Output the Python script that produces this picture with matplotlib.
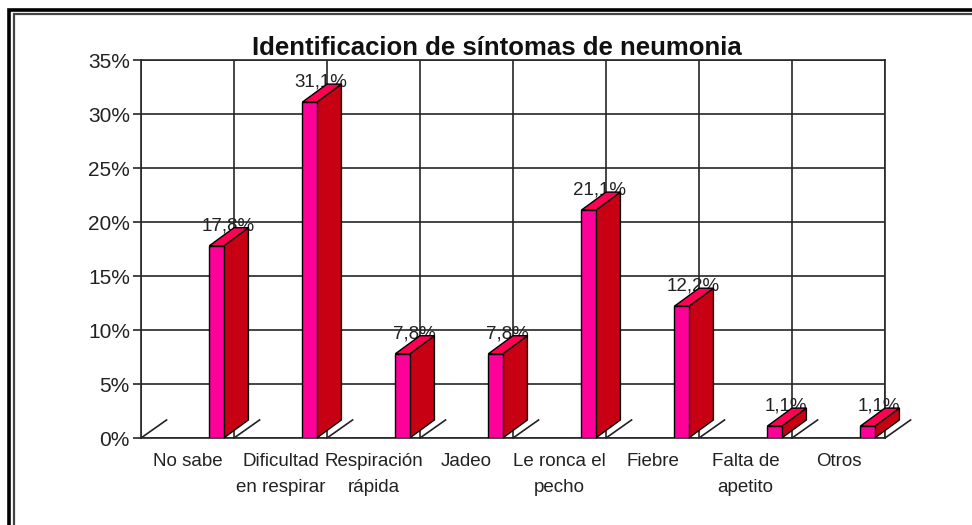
import matplotlib
matplotlib.use('Agg')
import matplotlib.pyplot as plt
from matplotlib.lines import Line2D
from matplotlib.patches import Polygon

# Data
categories = ['No sabe', 'Dificultad\nen respirar', 'Respiración\nrápida', 'Jadeo',
              'Le ronca el\npecho', 'Fiebre', 'Falta de\napetito', 'Otros']
values = [17.8, 31.1, 7.8, 7.8, 21.1, 12.2, 1.1, 1.1]
value_labels = ['17,8%', '31,1%', '7,8%', '7,8%', '21,1%', '12,2%', '1,1%', '1,1%']
y_ticks = [0, 5, 10, 15, 20, 25, 30, 35]

W, H = 972, 525
plt.rcParams['font.family'] = ['Liberation Sans', 'DejaVu Sans']

fig = plt.figure(figsize=(W / 100, H / 100), dpi=100)
ax = fig.add_axes([141 / W, 1 - 438 / H, (885 - 141) / W, (438 - 60) / H])
ax.set_xlim(0, 8)
ax.set_ylim(0, 35)

# 3D look of the bars, in axis units
bar_w = 0.155
bar_gap = 0.265
depth_x = 0.265
depth_y = 1.67
front_color = '#ff0099'
side_color = '#c80014'
top_color = '#ff0055'
grid_color = '#262626'

ax.set_xticks(range(9))
ax.set_yticks(y_ticks)
ax.set_yticklabels([f'{t}%' for t in y_ticks], fontsize=15, color='#222222')
ax.set_xticklabels([])
ax.grid(True, color=grid_color, linewidth=1.2, zorder=1)
ax.set_axisbelow(True)
ax.tick_params(axis='y', length=6, width=1.2, color=grid_color, pad=2)
ax.tick_params(axis='x', length=0)
for side in ax.spines.values():
    side.set_color(grid_color)
    side.set_linewidth(1.2)

# floor ticks going back from the axis
for i in range(9):
    ax.plot([i, i + depth_x + 0.01], [0, depth_y], color='#222222', linewidth=1.2,
            zorder=2, clip_on=False)

for i, v in enumerate(values):
    left = i + 1 - bar_gap
    right = left + bar_w
    # label sits under the bar, the top face cuts through it as in the original
    ax.text(left + 0.2, v + 1.85, value_labels[i], ha='center', va='center',
            fontsize=13.5, color='#222222', zorder=3)
    ax.add_patch(Polygon([(right, 0), (right + depth_x, depth_y), (right + depth_x, v + depth_y), (right, v)],
                         facecolor=side_color, edgecolor='black', linewidth=1, zorder=4, clip_on=False))
    ax.add_patch(Polygon([(left, v), (left + depth_x, v + depth_y), (right + depth_x, v + depth_y), (right, v)],
                         facecolor=top_color, edgecolor='black', linewidth=1, zorder=4, clip_on=False))
    ax.bar(left, v, width=bar_w, align='edge', color=front_color, edgecolor='black', linewidth=1, zorder=5)

    # category labels with the wide line spacing of the original
    for j, line in enumerate(categories[i].split('\n')):
        ax.annotate(line, (i + 0.5, 0), xytext=(0, -24 - 26 * j), textcoords='offset pixels',
                    ha='center', va='center', fontsize=13.5, color='#222222', annotation_clip=False)

fig.text(497 / W, 1 - 48 / H, 'Identificacion de síntomas de neumonia', ha='center', va='center',
         fontsize=18.5, fontweight='bold', color='#111111')


# double frame of the page: left and top only
def frame_line(xs, ys, color, lw):
    fig.add_artist(Line2D([x / W for x in xs], [1 - y / H for y in ys], color=color, linewidth=lw,
                          solid_capstyle='butt', solid_joinstyle='miter'))


frame_line([9, 9, W], [H, 9.5, 9.5], 'black', 2.6)
frame_line([13.5, 13.5, W], [H, 14, 14], '#444444', 1.6)

fig.savefig('out.png', dpi=100)
